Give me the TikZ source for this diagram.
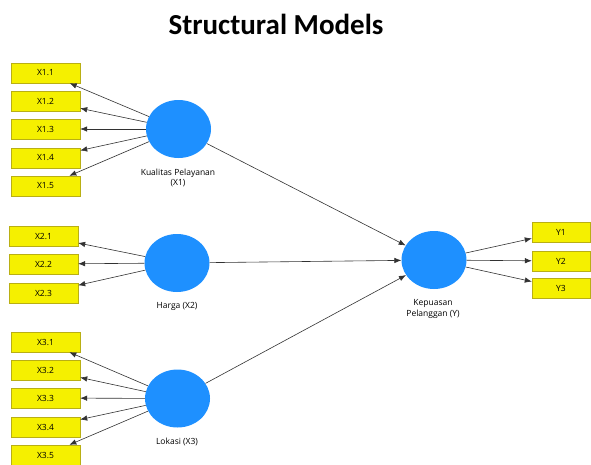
\documentclass[tikz,border=0pt]{standalone}
\usepackage{fontspec}
\setmainfont{Open Sans}
\newfontfamily\titlefont{Carlito}
\usepackage{tikz}
\usetikzlibrary{arrows.meta,shapes.geometric}
\definecolor{indc}{RGB}{245,240,0}
\definecolor{indb}{RGB}{185,175,20}
\definecolor{latc}{RGB}{30,144,255}
\definecolor{linec}{RGB}{50,50,50}

\begin{document}
\begin{tikzpicture}[x=1pt, y=-1pt, every node/.style={font=\fontsize{8.5}{10.5}\selectfont},
  ind/.style={draw=indb, fill=indc, minimum width=69pt, minimum height=20pt, inner sep=0pt},
  lat/.style={ellipse, fill=latc, minimum width=65pt, minimum height=58pt, inner sep=0pt},
  lbl/.style={align=center, inner sep=0pt},
  lnk/.style={-{Latex[length=7pt,width=5.5pt]}, draw=linec, line width=0.6pt}]
  \useasboundingbox (0,0) rectangle (591,464);
  \node[font=\titlefont\bfseries\fontsize{29}{34}\selectfont] (title) at (276,24) {Structural Models};
  % latent variables
  \node[lat] (x1) at (178.5,129) {};
  \node[lat] (x2) at (177,263) {};
  \node[lat] (x3) at (177.5,398.5) {};
  \node[lat] (y) at (434,260) {};
  \node[lbl] (lx1) at (178,178) {Kualitas Pelayanan\\(X1)};
  \node[lbl] (lx2) at (177,306) {Harga (X2)};
  \node[lbl] (lx3) at (177,442) {Lokasi (X3)};
  \node[lbl] (ly) at (433,309) {Kepuasan\\Pelanggan (Y)};
  % indicators
  \foreach \i/\y in {1/73,2/101,3/129,4/158,5/186} {
    \node[ind] (x1\i) at (45.5,\y) {X1.\i};
    \draw[lnk] (x1) -- (x1\i);
  }
  \foreach \i/\y in {1/236,2/264,3/293} {
    \node[ind] (x2\i) at (43.5,\y) {X2.\i};
    \draw[lnk] (x2) -- (x2\i);
  }
  \foreach \i/\y in {1/342,2/370,3/398,4/427,5/455} {
    \node[ind] (x3\i) at (45.5,\y) {X3.\i};
    \draw[lnk] (x3) -- (x3\i);
  }
  \foreach \i/\y in {1/232,2/261,3/288} {
    \node[ind, minimum width=58pt] (y\i) at (561,\y) {Y\i};
    \draw[lnk] (y) -- (y\i);
  }
  % structural paths
  \foreach \s in {x1,x2,x3} \draw[lnk] (\s) -- (y);
\end{tikzpicture}
\end{document}
